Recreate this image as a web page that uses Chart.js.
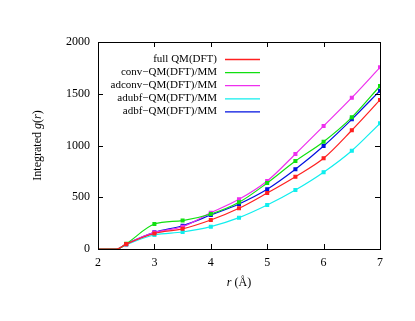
<!DOCTYPE html>
<html>
<head>
<meta charset="utf-8">
<script src="https://cdn.jsdelivr.net/npm/chart.js@4/dist/chart.umd.min.js"></script>
<style>
  html,body{margin:0;padding:0;background:#fff;}
  #wrap{width:415px;height:321px;}
</style>
</head>
<body>
<div id="wrap"><canvas id="c" width="415" height="321"></canvas></div>
<script>
// r in Angstrom, integrated g(r) per method
const rVals   = [2, 2.33, 2.5, 3, 3.5, 4, 4.5, 5, 5.5, 6, 6.5, 7];
const fullQM  = [0, 0, 47, 150, 195, 280, 393, 541, 699, 876, 1147, 1440];
const convQM  = [0, 0, 50, 241, 275, 338, 451, 638, 850, 1037, 1272, 1575];
const adconv  = [0, 0, 47, 160, 215, 350, 480, 657, 918, 1188, 1462, 1755];
const adubf   = [0, 0, 42, 135, 164, 216, 303, 425, 570, 742, 950, 1214];
const adbf    = [0, 0, 48, 161, 225, 328, 435, 577, 770, 995, 1253, 1530];
const names   = ['full QM(DFT)','conv\u2212QM(DFT)/MM','adconv\u2212QM(DFT)/MM','adubf\u2212QM(DFT)/MM','adbf\u2212QM(DFT)/MM'];
const colors  = ['#ff2020','#10e010','#ee30ee','#10eeee','#0010e0'];
const xTicks  = [2,3,4,5,6,7];
const yTicks  = [0,500,1000,1500,2000];

const serif = '"Liberation Serif", "DejaVu Serif", serif';

function mkSet(i, vals){
  return {
    label: names[i],
    data: rVals.map((r,k)=>({x:r, y:vals[k]})),
    borderColor: colors[i], backgroundColor: colors[i],
    borderWidth: 1.2,
    pointRadius: rVals.map(r=> r>=2.5 ? 2 : 0),
    pointStyle: 'rect',
    cubicInterpolationMode: 'monotone',
    fill: false
  };
}

// gnuplot-like frame, inward ticks, legend and axis titles
const gnuplotLook = {
  id:'gnuplotLook',
  afterDraw(chart){
    const ctx = chart.ctx, a = chart.chartArea;
    const xs = chart.scales.x, ys = chart.scales.y;
    ctx.save();
    ctx.strokeStyle = '#000'; ctx.lineWidth = 1;
    ctx.strokeRect(a.left+0.5, a.top+0.5, a.right-a.left, a.bottom-a.top);
    ctx.beginPath();
    xTicks.forEach(v=>{
      const px = Math.round(xs.getPixelForValue(v))+0.5;
      ctx.moveTo(px,a.bottom); ctx.lineTo(px,a.bottom-5);
      ctx.moveTo(px,a.top); ctx.lineTo(px,a.top+5);
    });
    yTicks.forEach(v=>{
      const py = Math.round(ys.getPixelForValue(v))+0.5;
      ctx.moveTo(a.left,py); ctx.lineTo(a.left+5,py);
      ctx.moveTo(a.right,py); ctx.lineTo(a.right-5,py);
    });
    ctx.stroke();

    // legend
    ctx.font = '11px '+serif;
    ctx.textAlign='right'; ctx.textBaseline='middle'; ctx.fillStyle='#000';
    chart.data.datasets.forEach((d,i)=>{
      const y = 59 + i*13.1;
      ctx.fillText(d.label, 217, y);
      ctx.strokeStyle = d.borderColor; ctx.lineWidth = 1.3;
      ctx.beginPath(); ctx.moveTo(225,y+0.5); ctx.lineTo(260,y+0.5); ctx.stroke();
    });

    // axis titles with italics
    ctx.fillStyle='#000'; ctx.textBaseline='middle';
    function parts(list, cx, cy){
      let w = 0;
      list.forEach(p=>{ ctx.font=(p[1]?'italic ':'')+'12px '+serif; w+=ctx.measureText(p[0]).width; });
      let x = cx - w/2;
      ctx.textAlign='left';
      list.forEach(p=>{ ctx.font=(p[1]?'italic ':'')+'12px '+serif; ctx.fillText(p[0], x, cy); x+=ctx.measureText(p[0]).width; });
    }
    parts([['r',true],[' (\u00c5)',false]], (a.left+a.right)/2, 283);
    ctx.save();
    ctx.translate(38, (a.top+a.bottom)/2);
    ctx.rotate(-Math.PI/2);
    parts([['Integrated ',false],['g',true],['(',false],['r',true],[')',false]], 0, 0);
    ctx.restore();
    ctx.restore();
  }
};

new Chart(document.getElementById('c'), {
  type:'line',
  data:{ datasets:[mkSet(0,fullQM), mkSet(1,convQM), mkSet(2,adconv), mkSet(3,adubf), mkSet(4,adbf)] },
  options:{
    responsive:false, animation:false,
    layout:{ padding:{ top:42, right:35, left:0, bottom:0 } },
    plugins:{ legend:{display:false}, tooltip:{enabled:false} },
    scales:{
      x:{ type:'linear', min:2, max:7,
          afterBuildTicks(s){ s.ticks = xTicks.map(v=>({value:v})); },
          afterFit(s){ s.height = 72; },
          grid:{ display:false, drawTicks:false }, border:{display:false},
          ticks:{ font:{family:serif, size:12}, color:'#000', padding:7, callback:v=>String(v) } },
      y:{ min:0, max:2000,
          afterBuildTicks(s){ s.ticks = yTicks.map(v=>({value:v})); },
          afterFit(s){ s.width = 98; },
          grid:{ display:false, drawTicks:false }, border:{display:false},
          ticks:{ font:{family:serif, size:12}, color:'#000', padding:8, callback:v=>String(v) } }
    }
  },
  plugins:[gnuplotLook]
});
</script>
</body>
</html>
